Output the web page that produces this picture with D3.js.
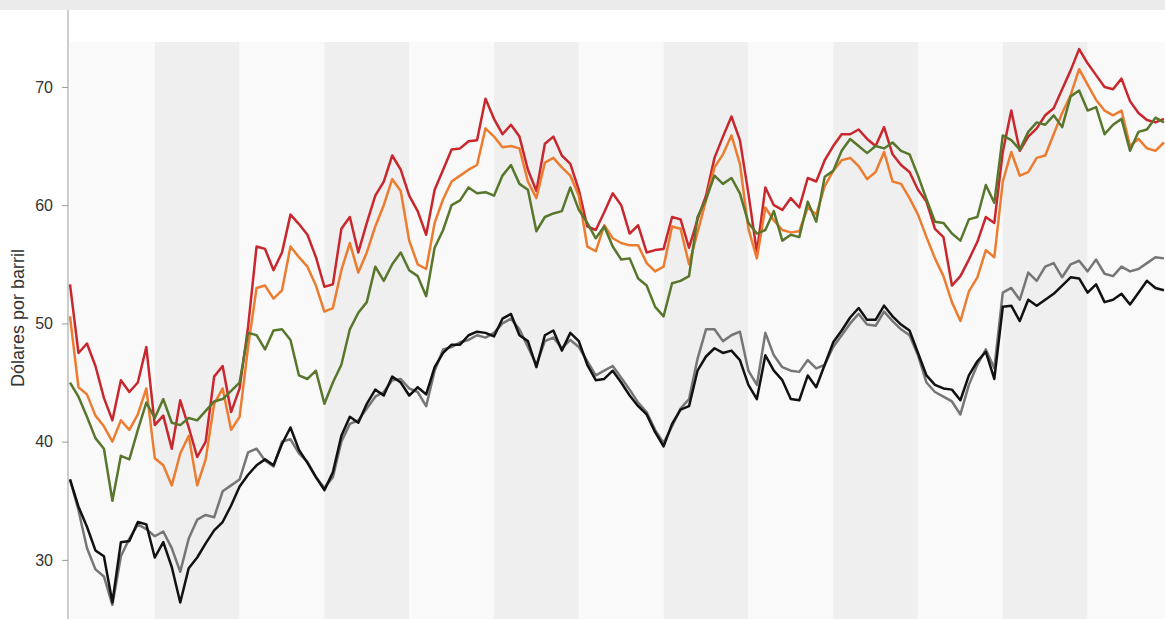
<!DOCTYPE html>
<html>
<head>
<meta charset="utf-8">
<script src="https://cdn.jsdelivr.net/npm/d3@7/dist/d3.min.js"></script>
<style>
  html, body { margin: 0; padding: 0; background: #ffffff; }
  svg { display: block; }
</style>
</head>
<body>
<svg id="chart" width="1165" height="619"></svg>
<script>
// ---- DATA ----
const pointsPerPeriod = 10;
const periods = ["1","2","3","4","5","6","7","8","9","10","11","12","13"];
const yTicks = [30, 40, 50, 60, 70];
const yLabel = "Dólares por barril";

const red = [53.3,47.5,48.3,46.4,43.7,41.8,45.2,44.2,45.0,48.0,
  41.4,42.2,39.4,43.5,41.2,38.7,40.0,45.5,46.4,42.5,
  44.5,49.7,56.5,56.3,54.5,56.0,59.2,58.4,57.5,55.6,
  53.1,53.3,58.0,59.0,56.0,58.5,60.8,62.0,64.2,63.0,
  60.8,59.5,57.5,61.3,63.0,64.7,64.8,65.4,65.5,69.0,
  67.3,66.0,66.8,65.8,63.0,61.2,65.2,65.8,64.2,63.5,
  61.3,58.2,57.9,59.4,61.0,60.0,57.6,58.3,56.0,56.2,
  56.3,59.0,58.8,56.4,58.8,60.8,64.0,65.8,67.5,65.5,
  61.0,56.0,61.5,60.0,59.6,60.6,59.8,62.3,62.0,63.8,
  65.0,66.0,66.0,66.4,65.6,65.0,66.6,64.3,63.4,62.8,
  61.3,60.3,58.0,57.3,53.2,54.0,55.4,56.9,59.0,58.5,
  64.5,68.0,64.6,65.8,66.5,67.6,68.2,69.8,71.4,73.2,
  72.0,71.0,70.0,69.8,70.7,68.8,67.8,67.2,67.0,67.3];

const orange = [50.6,44.6,44.0,42.2,41.3,40.0,41.8,41.0,42.3,44.5,
  38.6,38.0,36.3,39.0,40.5,36.3,38.5,43.2,44.5,41.0,
  42.1,48.0,53.0,53.2,52.1,52.8,56.5,55.6,54.8,53.2,
  51.0,51.3,54.5,56.8,54.3,56.0,58.2,60.0,62.2,61.2,
  57.0,55.0,54.6,58.5,60.5,62.0,62.5,63.0,63.4,66.5,
  65.8,64.9,65.0,64.8,62.0,60.6,63.6,64.0,63.2,62.5,
  60.8,56.5,56.1,58.3,57.2,56.8,56.6,56.6,55.1,54.4,
  54.8,58.2,58.0,55.0,57.7,60.4,63.2,64.3,65.9,63.5,
  58.0,55.5,59.8,58.7,57.9,57.7,57.8,59.8,59.2,61.6,
  62.9,63.8,64.0,63.3,62.2,62.8,64.5,62.0,61.8,60.6,
  59.2,57.3,55.5,54.0,51.8,50.2,52.7,53.9,56.2,55.6,
  62.0,64.5,62.5,62.8,64.0,64.2,66.0,67.8,69.3,71.5,
  70.2,68.9,68.0,67.6,68.0,65.0,65.6,64.8,64.6,65.3];

const green = [45.0,43.8,42.1,40.3,39.4,35.0,38.8,38.5,41.0,43.3,
  42.0,43.6,41.6,41.4,42.0,41.8,42.6,43.4,43.6,44.3,
  45.0,49.2,49.0,47.8,49.4,49.5,48.6,45.6,45.3,46.0,
  43.2,45.0,46.5,49.5,50.9,51.8,54.8,53.6,55.0,56.0,
  54.5,54.0,52.3,56.4,57.9,60.0,60.4,61.5,61.0,61.1,
  60.8,62.5,63.4,61.8,61.3,57.8,59.0,59.3,59.5,61.5,
  59.6,58.5,57.2,58.2,56.5,55.4,55.5,53.8,53.2,51.4,
  50.6,53.4,53.6,54.0,59.0,60.5,62.5,61.8,62.3,61.0,
  58.5,57.6,57.9,59.5,57.0,57.5,57.3,60.3,58.6,62.4,
  62.9,64.6,65.6,65.0,64.4,65.0,64.8,65.3,64.6,64.3,
  62.5,60.5,58.6,58.5,57.6,57.0,58.8,59.0,61.7,60.2,
  65.9,65.5,64.7,66.2,67.0,66.8,67.6,66.6,69.2,69.7,
  68.0,68.3,66.0,66.8,67.3,64.6,66.2,66.4,67.4,67.0];

const gray = [36.8,34.2,31.0,29.2,28.6,26.2,30.3,31.8,33.0,32.6,
  32.0,32.4,31.0,29.0,31.8,33.4,33.8,33.6,35.8,36.3,
  36.8,39.1,39.4,38.4,37.9,40.0,40.2,39.0,38.3,37.0,
  36.1,37.0,40.0,41.5,41.8,42.8,43.8,44.2,45.2,45.3,
  44.5,44.2,43.0,46.0,47.8,48.0,48.4,48.6,49.0,48.8,
  49.2,50.0,50.4,49.5,48.0,46.5,48.5,48.8,47.9,48.6,
  48.0,46.8,45.6,46.0,46.4,45.4,44.4,43.3,42.5,41.0,
  39.9,41.3,42.8,43.6,47.0,49.5,49.5,48.5,49.0,49.3,
  46.0,44.8,49.2,47.3,46.3,46.0,45.9,46.9,46.2,46.5,
  48.0,49.0,50.0,50.8,49.9,49.8,51.0,50.2,49.5,49.0,
  47.3,45.0,44.2,43.8,43.4,42.3,44.8,46.5,47.8,46.2,
  52.6,53.0,52.0,54.3,53.6,54.8,55.1,53.9,55.0,55.3,
  54.4,55.4,54.2,54.0,54.8,54.4,54.6,55.1,55.6,55.5];

const black = [36.8,34.5,32.8,30.8,30.3,26.4,31.5,31.6,33.2,33.0,
  30.2,31.5,29.4,26.4,29.3,30.2,31.4,32.5,33.2,34.6,
  36.2,37.2,38.0,38.5,38.0,39.8,41.2,39.3,38.2,37.0,
  35.9,37.4,40.5,42.1,41.6,43.2,44.4,43.9,45.5,45.0,
  43.9,44.6,44.0,46.3,47.5,48.2,48.2,49.0,49.3,49.2,
  48.9,50.4,50.8,49.0,48.5,46.3,49.0,49.4,47.7,49.2,
  48.5,46.5,45.2,45.3,46.0,45.0,43.9,43.0,42.3,40.8,
  39.6,41.5,42.7,43.0,46.0,47.2,47.9,47.5,47.7,46.9,
  44.8,43.6,47.3,46.0,45.2,43.6,43.5,45.6,44.6,46.5,
  48.4,49.4,50.5,51.3,50.3,50.3,51.5,50.6,49.9,49.4,
  47.5,45.6,44.8,44.5,44.4,43.5,45.6,46.8,47.6,45.3,
  51.4,51.5,50.2,52.0,51.5,52.0,52.5,53.2,53.9,53.8,
  52.6,53.3,51.8,52.0,52.5,51.6,52.6,53.6,53.0,52.8];

const series = [
  { name: "rojo", values: red, color: "#c8282d" },
  { name: "naranja", values: orange, color: "#ec7c30" },
  { name: "verde", values: green, color: "#58772c" },
  { name: "gris", values: gray, color: "#767676" },
  { name: "negro", values: black, color: "#111111" }
];

// ---- CHART ----
const W = 1165, H = 619;
const plotLeft = 70, plotTop = 42, plotBottom = 619;
const bandWidth = 84.8;
const svg = d3.select("#chart");

// top strip
svg.append("rect").attr("x", 0).attr("y", 0).attr("width", W).attr("height", 10).attr("fill", "#ebebeb");

const nPts = periods.length * pointsPerPeriod;
const x = d3.scaleLinear()
  .domain([0, nPts])
  .range([plotLeft, plotLeft + bandWidth * periods.length]);
const y = d3.scaleLinear().domain([25, 73.8]).range([plotBottom, plotTop]);

// alternating bands
svg.append("g").selectAll("rect").data(periods).join("rect")
  .attr("x", (d, i) => x(i * pointsPerPeriod))
  .attr("y", plotTop)
  .attr("width", (d, i) => x((i + 1) * pointsPerPeriod) - x(i * pointsPerPeriod))
  .attr("height", plotBottom - plotTop)
  .attr("fill", (d, i) => i % 2 === 0 ? "#f9f9f9" : "#efefef");

// y axis
const yAxis = d3.axisLeft(y).tickValues(yTicks).tickSize(6).tickPadding(9).tickFormat(d3.format("d"));
const gy = svg.append("g").attr("transform", "translate(68,0)").call(yAxis);
gy.select(".domain").attr("d", `M0,10V${H}`).attr("stroke", "#9a9a9a");
gy.selectAll(".tick line").attr("stroke", "#9a9a9a");
gy.selectAll(".tick text")
  .attr("fill", "#333")
  .style("font-family", "Liberation Sans, Arial, sans-serif")
  .style("font-size", "16px");

svg.append("text")
  .attr("transform", "translate(24,318) rotate(-90)")
  .attr("text-anchor", "middle")
  .attr("fill", "#333")
  .style("font-family", "Liberation Sans, Arial, sans-serif")
  .style("font-size", "18px")
  .text(yLabel);

// lines
const line = d3.line().x((d, i) => x(i)).y(d => y(d));
svg.append("g").selectAll("path").data(series).join("path")
  .attr("d", d => line(d.values))
  .attr("fill", "none")
  .attr("stroke", d => d.color)
  .attr("stroke-width", 2.5)
  .attr("stroke-linejoin", "round");
</script>
</body>
</html>
